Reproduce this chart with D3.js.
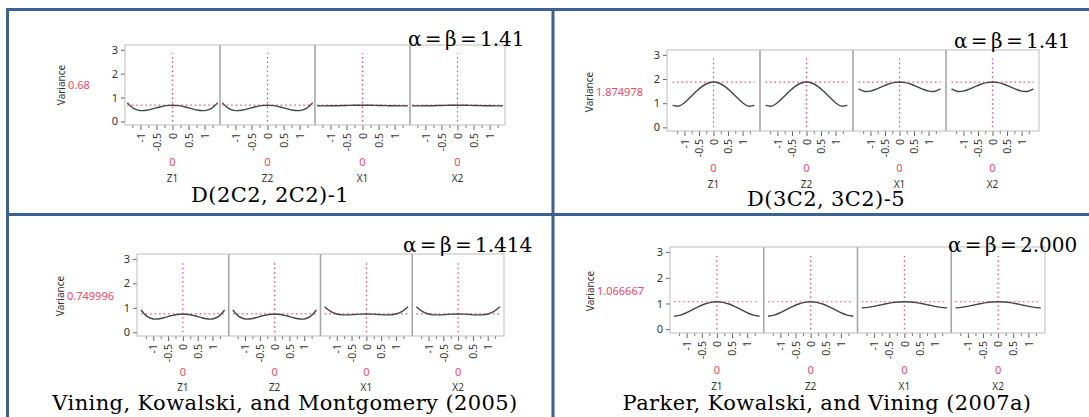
<!DOCTYPE html>
<html>
<head>
<meta charset="utf-8">
<script src="https://cdn.jsdelivr.net/npm/d3@7"></script>
<style>
  body { margin: 0; background: #ffffff; }
  svg { display: block; }
</style>
</head>
<body>
<script>
// ---- data -------------------------------------------------------------
// Coded factor levels at which each prediction-variance profile was read
const profileX = [-1.41, -1.2, -1.0, -0.8, -0.6, -0.4, -0.2, 0, 0.2, 0.4, 0.6, 0.8, 1.0, 1.2, 1.41];

const factorNames = ["Z1", "Z2", "X1", "X2"];
const yTicks = [0, 1, 2, 3];
const xTickLabels = [-1, -0.5, 0, 0.5, 1];
const xMinorTicks = [-1.25, -0.75, -0.25, 0.25, 0.75, 1.25];

const designNames = [
  "D(2C2, 2C2)-1",
  "D(3C2, 3C2)-5",
  "Vining, Kowalski, and Montgomery (2005)",
  "Parker, Kowalski, and Vining (2007a)"
];
const alphaLabels = ["α = β = 1.41", "α = β = 1.41", "α = β = 1.414", "α = β = 2.000"];
const centerVariance = [0.68, 1.874978, 0.749996, 1.066667];
const centerVarianceLabels = ["0.68", "1.874978", "0.749996", "1.066667"];

// Variance along a noise factor (Z1, Z2) and a control factor (X1, X2), others held at 0
const varZ_D2 = [0.787, 0.533, 0.453, 0.469, 0.533, 0.606, 0.660, 0.68, 0.660, 0.606, 0.533, 0.469, 0.453, 0.533, 0.787];
const varX_D2 = [0.655, 0.652, 0.654, 0.658, 0.664, 0.671, 0.677, 0.68, 0.677, 0.671, 0.664, 0.658, 0.654, 0.652, 0.655];
const varZ_D3 = [0.907, 0.880, 1.020, 1.242, 1.481, 1.688, 1.826, 1.874978, 1.826, 1.688, 1.481, 1.242, 1.020, 0.880, 0.907];
const varX_D3 = [1.596, 1.486, 1.500, 1.580, 1.685, 1.783, 1.851, 1.874978, 1.851, 1.783, 1.685, 1.580, 1.500, 1.486, 1.596];
const varZ_VKM = [0.914, 0.640, 0.546, 0.553, 0.610, 0.678, 0.731, 0.749996, 0.731, 0.678, 0.610, 0.553, 0.546, 0.640, 0.914];
const varX_VKM = [1.045, 0.845, 0.750, 0.715, 0.715, 0.730, 0.744, 0.749996, 0.744, 0.730, 0.715, 0.715, 0.750, 0.845, 1.045];
const varZ_PKV = [0.500, 0.545, 0.642, 0.762, 0.881, 0.980, 1.045, 1.066667, 1.045, 0.980, 0.881, 0.762, 0.642, 0.545, 0.500];
const varX_PKV = [0.830, 0.849, 0.889, 0.939, 0.990, 1.031, 1.058, 1.066667, 1.058, 1.031, 0.990, 0.939, 0.889, 0.849, 0.830];

const profiles = [
  [varZ_D2, varZ_D2, varX_D2, varX_D2],
  [varZ_D3, varZ_D3, varX_D3, varX_D3],
  [varZ_VKM, varZ_VKM, varX_VKM, varX_VKM],
  [varZ_PKV, varZ_PKV, varX_PKV, varX_PKV]
];

// ---- layout -----------------------------------------------------------
const W = 1089, H = 417;
const layout = [
  { x0: 125, x1: 505, top: 45, bottom: 125, xHalf: 1.48, varX: 61, varY: 85, zeroY: 162, nameY: 178,
    titleX: 270, titleY: 202, alphaX: 408, alphaY: 46 },
  { x0: 667, x1: 1039, top: 50, bottom: 131, xHalf: 1.6, varX: 589, varY: 92, zeroY: 168, nameY: 184,
    titleX: 826, titleY: 206, alphaX: 954, alphaY: 48 },
  { x0: 137, x1: 504, top: 254, bottom: 336, xHalf: 1.55, varX: 60, varY: 296, zeroY: 372, nameY: 387,
    titleX: 285, titleY: 410, alphaX: 403, alphaY: 252 },
  { x0: 670, x1: 1045, top: 247, bottom: 333, xHalf: 1.55, varX: 590, varY: 291, zeroY: 370, nameY: 386,
    titleX: 827, titleY: 410, alphaX: 948, alphaY: 252 }
];

const RED = "#ef4a67";
const INK = "#333333";
const BORDER = "#3d6191";
const sans = "'Noto Sans', 'Open Sans', sans-serif";
const serif = "'DejaVu Serif', serif";

const svg = d3.select("body").append("svg")
  .attr("width", W).attr("height", H)
  .attr("viewBox", `0 0 ${W} ${H}`);

svg.append("rect").attr("width", W).attr("height", H).attr("fill", "#ffffff");

layout.forEach((L, i) => {
  const g = svg.append("g");
  const y = d3.scaleLinear().domain([-0.15, 3.2]).range([L.bottom, L.top]);
  const panelW = (L.x1 - L.x0) / factorNames.length;

  // y axis
  const yAxis = g.append("g")
    .attr("transform", `translate(${L.x0},0)`)
    .call(d3.axisLeft(y).tickValues(yTicks).tickSize(4).tickPadding(3).tickFormat(d3.format("d")));
  yAxis.select(".domain").remove();
  yAxis.selectAll("line").attr("stroke", "#666");
  yAxis.selectAll("text").attr("fill", INK).style("font", `11px ${sans}`);

  // response label and its current value
  g.append("text")
    .attr("transform", `translate(${L.varX},${L.varY}) rotate(-90)`)
    .attr("text-anchor", "middle").attr("dy", "0.35em")
    .attr("fill", INK).style("font", `10px ${sans}`)
    .text("Variance");
  g.append("text")
    .attr("x", L.varX + 7).attr("y", L.varY).attr("dy", "0.35em")
    .attr("fill", RED).style("font", `11px ${sans}`)
    .text(centerVarianceLabels[i]);

  factorNames.forEach((name, j) => {
    const px0 = L.x0 + j * panelW;
    const x = d3.scaleLinear().domain([-L.xHalf, L.xHalf]).range([px0, px0 + panelW]);

    // minor ticks
    const minor = g.append("g").attr("transform", `translate(0,${L.bottom})`)
      .call(d3.axisBottom(x).tickValues(xMinorTicks).tickSize(3).tickFormat(""));
    minor.select(".domain").remove();
    minor.selectAll("line").attr("stroke", "#777");

    // labelled ticks, text turned upright
    const major = g.append("g").attr("transform", `translate(0,${L.bottom})`)
      .call(d3.axisBottom(x).tickValues(xTickLabels).tickSize(5).tickFormat(d => String(d)));
    major.select(".domain").remove();
    major.selectAll("line").attr("stroke", "#666");
    major.selectAll("text")
      .attr("transform", "rotate(-90)")
      .attr("text-anchor", "end")
      .attr("x", -8).attr("y", 0).attr("dy", "0.35em")
      .attr("fill", INK).style("font", `10.5px ${sans}`);

    // current setting and factor name
    g.append("text").attr("x", x(0)).attr("y", L.zeroY).attr("dy", "0.35em")
      .attr("text-anchor", "middle").attr("fill", RED).style("font", `11px ${sans}`)
      .text("0");
    g.append("text").attr("x", x(0)).attr("y", L.nameY).attr("dy", "0.35em")
      .attr("text-anchor", "middle").attr("fill", INK).style("font", `10px ${sans}`)
      .text(name);

    // crosshair at the current setting
    g.append("line")
      .attr("x1", x(-1.41)).attr("x2", x(1.41))
      .attr("y1", y(centerVariance[i])).attr("y2", y(centerVariance[i]))
      .attr("stroke", RED).attr("stroke-width", 1.2).attr("stroke-dasharray", "1.5,3");
    g.append("line")
      .attr("x1", x(0)).attr("x2", x(0))
      .attr("y1", y(0)).attr("y2", y(2.85))
      .attr("stroke", RED).attr("stroke-width", 1.2).attr("stroke-dasharray", "1.5,3");

    // variance profile
    const pts = profileX.map((v, k) => [v, profiles[i][j][k]]);
    g.append("path")
      .datum(pts)
      .attr("fill", "none")
      .attr("stroke", "#454545")
      .attr("stroke-width", 1.4)
      .attr("d", d3.line().x(d => x(d[0])).y(d => y(d[1])).curve(d3.curveCatmullRom));

    // panel divider
    if (j > 0) {
      g.append("line").attr("x1", px0).attr("x2", px0)
        .attr("y1", L.top).attr("y2", L.bottom)
        .attr("stroke", "#a6a6a6").attr("stroke-width", 1.6);
    }
  });

  // frame
  g.append("rect")
    .attr("x", L.x0).attr("y", L.top)
    .attr("width", L.x1 - L.x0).attr("height", L.bottom - L.top)
    .attr("fill", "none").attr("stroke", "#bdbdbd").attr("stroke-width", 1);

  // annotations
  g.append("text").attr("x", L.alphaX).attr("y", L.alphaY)
    .attr("fill", "#000").style("font", `20px ${serif}`).style("word-spacing", "-3px")
    .text(alphaLabels[i]);
  g.append("text").attr("x", L.titleX).attr("y", L.titleY)
    .attr("text-anchor", "middle")
    .attr("fill", "#000").style("font", `21px ${serif}`).style("letter-spacing", "0.4px")
    .text(designNames[i]);
});

// table rules
const rules = [
  [6, 9.5, W, 9.5],
  [7.5, 9.5, 7.5, H],
  [553, 9.5, 553, H],
  [6, 214.5, W, 214.5]
];
svg.append("g").selectAll("line").data(rules).join("line")
  .attr("x1", d => d[0]).attr("y1", d => d[1]).attr("x2", d => d[2]).attr("y2", d => d[3])
  .attr("stroke", BORDER).attr("stroke-width", 3);
</script>
</body>
</html>
